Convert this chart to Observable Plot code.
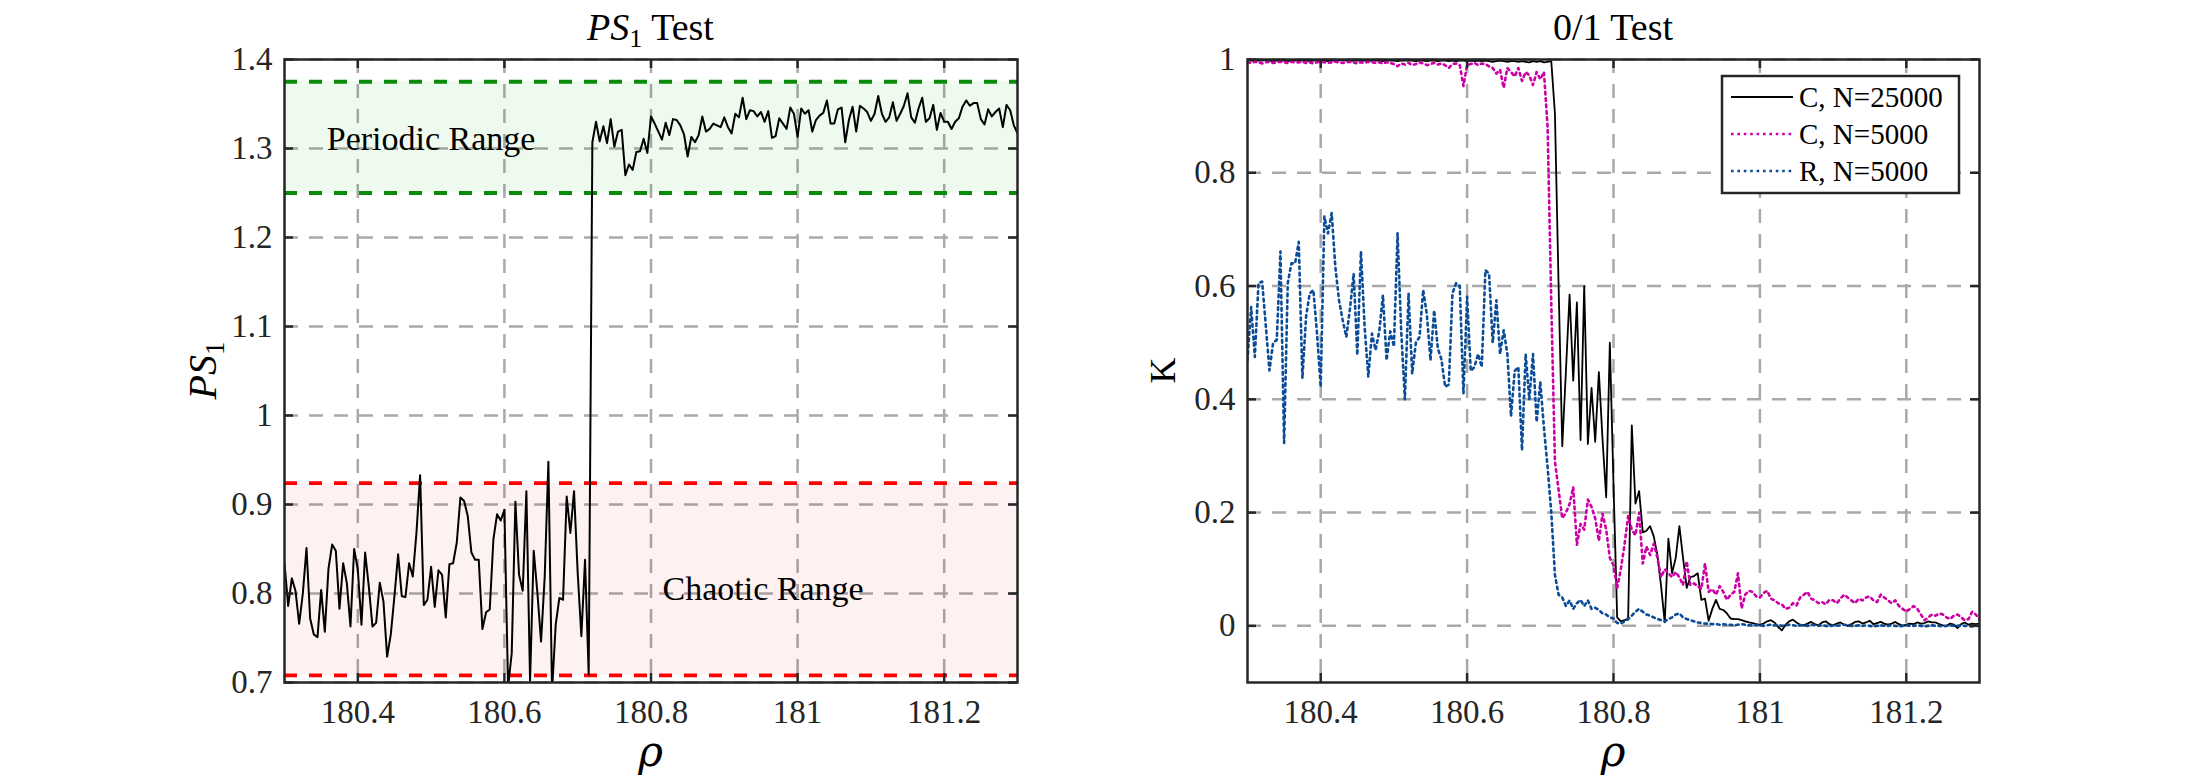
<!DOCTYPE html>
<html>
<head>
<meta charset="utf-8">
<script src="https://cdn.jsdelivr.net/npm/d3@7"></script>
<script src="https://cdn.jsdelivr.net/npm/@observablehq/plot@0.6"></script>
<style>
  html, body { margin: 0; padding: 0; background: #fff; }
  #chart { position: relative; width: 2188px; height: 782px; overflow: hidden; }
  #chart .panel { position: absolute; top: 0; }
  #chart svg text { font-family: "Liberation Serif", "Times New Roman", serif; }
  #overlay { position: absolute; left: 0; top: 0; pointer-events: none; }
</style>
</head>
<body>
<div id="chart"></div>
<script>
// Parameter sweep: rho from 180.3 to 181.3 in steps of 0.005 (201 samples)
const rhoStart = 180.3;
const rhoStep = 0.005;
const rhoDomain = [180.3, 181.3];
const rhoTicks = [180.4, 180.6, 180.8, 181, 181.2];

// PS1 test statistic
const ps1Ticks = [0.7, 0.8, 0.9, 1, 1.1, 1.2, 1.3, 1.4];
const periodicRange = [1.25, 1.375];
const chaoticRange = [0.708, 0.924];
const ps1 = [
  0.834, 0.786, 0.817, 0.803, 0.766, 0.800, 0.851, 0.772, 0.754, 0.751,
  0.804, 0.757, 0.828, 0.855, 0.848, 0.783, 0.834, 0.812, 0.763, 0.850,
  0.827, 0.765, 0.846, 0.808, 0.763, 0.767, 0.812, 0.791, 0.729, 0.754,
  0.797, 0.844, 0.797, 0.796, 0.834, 0.819, 0.868, 0.933, 0.787, 0.793,
  0.830, 0.785, 0.826, 0.821, 0.773, 0.833, 0.834, 0.857, 0.908, 0.904,
  0.887, 0.846, 0.838, 0.838, 0.760, 0.779, 0.782, 0.861, 0.889, 0.882,
  0.894, 0.695, 0.733, 0.903, 0.821, 0.803, 0.915, 0.702, 0.848, 0.801,
  0.746, 0.819, 0.948, 0.690, 0.765, 0.795, 0.793, 0.909, 0.868, 0.915,
  0.823, 0.752, 0.838, 0.709,
  1.307, 1.330, 1.308, 1.325, 1.306, 1.333, 1.302, 1.319, 1.321, 1.270,
  1.282, 1.276, 1.296, 1.297, 1.311, 1.295,
  1.336, 1.328, 1.319, 1.310, 1.329, 1.315, 1.333, 1.332, 1.326, 1.316,
  1.291, 1.313, 1.307, 1.315, 1.336, 1.319, 1.322, 1.328, 1.326, 1.324,
  1.335, 1.324, 1.317, 1.339, 1.335, 1.357, 1.333, 1.343, 1.342, 1.336,
  1.341, 1.330, 1.342, 1.312, 1.314, 1.334, 1.328, 1.322, 1.346, 1.339,
  1.313, 1.345, 1.339, 1.343, 1.319, 1.332, 1.337, 1.340, 1.354, 1.328,
  1.328, 1.344, 1.346, 1.307, 1.332, 1.347, 1.319, 1.348, 1.345, 1.341,
  1.331, 1.339, 1.359, 1.339, 1.330, 1.335, 1.352, 1.331, 1.339, 1.348,
  1.362, 1.335, 1.329, 1.345, 1.357, 1.330, 1.334, 1.349, 1.321, 1.340,
  1.330, 1.330, 1.322, 1.330, 1.334, 1.347, 1.354, 1.348, 1.351, 1.351,
  1.333, 1.327, 1.344, 1.336, 1.341, 1.345, 1.324, 1.349, 1.343, 1.326,
  1.317
];

// 0/1 test for chaos: K values
const kTicks = [0, 0.2, 0.4, 0.6, 0.8, 1];
const kC25000 = [
  0.998, 0.998, 0.997, 0.998, 0.998, 0.999, 0.998, 0.997, 0.998, 0.998,
  0.998, 0.997, 0.998, 0.998, 0.999, 0.998, 0.998, 0.997, 0.998, 0.998,
  0.998, 0.998, 0.997, 0.998, 0.998, 0.998, 0.999, 0.998, 0.997, 0.998,
  0.998, 0.998, 0.998, 0.997, 0.998, 0.998, 0.998, 0.997, 0.998, 0.998,
  0.998, 0.997, 0.998, 0.998, 0.998, 0.998, 0.997, 0.998, 0.998, 0.997,
  0.998, 0.998, 0.997, 0.998, 0.998, 0.997, 0.998, 0.997, 0.998, 0.998,
  0.997, 0.998, 0.997, 0.998, 0.997, 0.998, 0.997, 0.996, 0.997, 0.998,
  0.997, 0.996, 0.997, 0.997, 0.996, 0.997, 0.996, 0.995, 0.997, 0.996,
  0.997, 0.995, 0.996, 0.997,
  0.904, 0.600, 0.317, 0.450, 0.585, 0.433, 0.571, 0.328, 0.600, 0.321,
  0.420, 0.325, 0.448, 0.330, 0.227, 0.500, 0.250, 0.015, 0.008, 0.010,
  0.013, 0.354, 0.216, 0.238, 0.165, 0.168, 0.176, 0.158, 0.125, 0.070,
  0.006, 0.154, 0.093, 0.120, 0.176, 0.120, 0.067, 0.086, 0.088, 0.093,
  0.046, 0.048, 0.009, 0.030, 0.046, 0.030, 0.028, 0.022, 0.013, 0.012,
  0.012, 0.010, 0.008, 0.006, 0.005, 0.003, 0.002,
  0.004, 0.008, 0.010, 0.006, -0.002, -0.008, 0.002, 0.008, 0.011, 0.006,
  0.002, 0.001, 0.004, 0.007, 0.003, 0.001, 0.006, 0.008, 0.003, 0.001,
  0.004, 0.006, 0.002, 0.000, 0.003, 0.007, 0.008, 0.004, 0.006, 0.009,
  0.003, 0.005, 0.007, 0.004, 0.002, 0.004, 0.007, 0.003, 0.000, 0.002,
  0.004, 0.003, 0.006, 0.004, 0.005, 0.008, 0.006, 0.006, 0.003, 0.001,
  0.000, 0.004, 0.002, -0.004, 0.003, 0.006, 0.002, 0.004, 0.003, 0.004
];
const kC5000 = [
  0.995, 0.994, 0.996, 0.995, 0.993, 0.995, 0.996, 0.994, 0.995, 0.996,
  0.995, 0.994, 0.996, 0.995, 0.995, 0.996, 0.994, 0.995, 0.993, 0.995,
  0.996, 0.995, 0.994, 0.995, 0.996, 0.995, 0.994, 0.995, 0.996, 0.995,
  0.993, 0.995, 0.994, 0.996, 0.995, 0.994, 0.995, 0.993, 0.995, 0.994,
  0.992, 0.988, 0.993, 0.991, 0.994, 0.990, 0.992, 0.995, 0.993, 0.990,
  0.992, 0.994, 0.991, 0.993, 0.990, 0.985, 0.992, 0.993, 0.990, 0.953,
  0.990, 0.992, 0.994, 0.990, 0.993, 0.992, 0.988, 0.985, 0.975, 0.982,
  0.950, 0.985, 0.978, 0.970, 0.985, 0.962, 0.978, 0.972, 0.955, 0.978,
  0.965, 0.978, 0.880, 0.570,
  0.290, 0.240, 0.190, 0.200, 0.215, 0.245, 0.143, 0.180, 0.170, 0.223,
  0.210, 0.190, 0.150, 0.198, 0.170, 0.120, 0.107, 0.067, 0.100, 0.143,
  0.194, 0.170, 0.160, 0.200, 0.110, 0.140, 0.125, 0.145, 0.120, 0.086,
  0.100, 0.093, 0.086, 0.095, 0.086, 0.072, 0.114, 0.072, 0.075, 0.070,
  0.065, 0.110, 0.060, 0.065, 0.055, 0.070, 0.060, 0.046, 0.055, 0.060,
  0.093, 0.031, 0.055, 0.062, 0.060, 0.052, 0.050, 0.058, 0.062, 0.048,
  0.045, 0.040, 0.038, 0.030, 0.032, 0.040, 0.036, 0.050, 0.055, 0.060,
  0.048, 0.045, 0.040, 0.042, 0.038, 0.046, 0.045, 0.040, 0.048, 0.055,
  0.050, 0.045, 0.040, 0.048, 0.045, 0.050, 0.052, 0.045, 0.042, 0.055,
  0.050, 0.045, 0.040, 0.045, 0.035, 0.030, 0.025, 0.030, 0.035, 0.030,
  0.020, 0.010, 0.015, 0.020, 0.018, 0.022, 0.020, 0.015, 0.012, 0.018,
  0.020, 0.015, 0.010, 0.012, 0.025, 0.020, 0.012
];
const kR5000 = [
  0.469, 0.563, 0.475, 0.605, 0.608, 0.530, 0.451, 0.500, 0.505, 0.661,
  0.323, 0.605, 0.640, 0.640, 0.678, 0.437, 0.546, 0.587, 0.593, 0.516,
  0.422, 0.723, 0.693, 0.729, 0.634, 0.575, 0.540, 0.510, 0.560, 0.622,
  0.478, 0.661, 0.528, 0.440, 0.516, 0.487, 0.520, 0.584, 0.469, 0.520,
  0.493, 0.693, 0.520, 0.400, 0.587, 0.445, 0.500, 0.510, 0.593, 0.550,
  0.469, 0.557, 0.490, 0.470, 0.422, 0.426, 0.587, 0.605, 0.600, 0.410,
  0.581, 0.450, 0.457, 0.480, 0.457, 0.628, 0.622, 0.500, 0.575, 0.480,
  0.522, 0.480, 0.370, 0.450, 0.457, 0.310, 0.480, 0.400, 0.480, 0.360,
  0.430, 0.350, 0.280, 0.200,
  0.090, 0.055, 0.050, 0.035, 0.045, 0.030, 0.040, 0.046, 0.035, 0.045,
  0.030, 0.032, 0.028, 0.022, 0.020, 0.015, 0.013, 0.005, 0.004, 0.008,
  0.012, 0.018, 0.025, 0.030, 0.025, 0.020, 0.018, 0.015, 0.012, 0.010,
  0.008, 0.012, 0.015, 0.020, 0.022, 0.015, 0.012, 0.010, 0.008, 0.006,
  0.005, 0.004,
  0.004, 0.003, 0.003, 0.002, 0.003, 0.002, 0.002, 0.001, 0.002, 0.003,
  0.002, 0.001, 0.001, 0.002, 0.001, 0.000, 0.001, 0.002, 0.001, 0.001,
  0.000, 0.001, 0.002, 0.001, 0.000, 0.001, 0.001, 0.000, 0.002, 0.001,
  0.000, 0.001, 0.000, -0.001, 0.001, 0.000, 0.001, 0.002, 0.001, 0.000,
  0.000, 0.001, 0.000, 0.001, 0.000, -0.001, 0.000, 0.001, 0.000, 0.000,
  0.001, 0.000, -0.001, 0.000, 0.001, 0.000, 0.000, 0.001, 0.000, -0.001,
  0.000, 0.001, 0.000, 0.000, -0.001, 0.000, 0.001, 0.000, 0.000, 0.001,
  0.000, 0.000, -0.001, 0.000, 0.001
];

const seriesNames = ["C, N=25000", "C, N=5000", "R, N=5000"];
const seriesColors = ["#000000", "#cc00a6", "#0b4c96"];

// rho value for sample i of a sweep
const rhoAt = (_, i) => +(rhoStart + i * rhoStep).toFixed(3);

// ---------- shared styling ----------
const FONT = "Liberation Serif, Times New Roman, serif";
const AXIS = "#262626";
const GRID = { stroke: "#a9a9a9", strokeOpacity: 1, strokeWidth: 2.5, strokeDasharray: "14,11" };
const DOTS = "2.6,3.8";
const TICK_LEN = 9;
const fmt = d => String(d);

const H = 782, TOP = 59, BOTTOM = 100;
const frameH = H - TOP - BOTTOM;

function panelMarks(xTicks, yTicks, frameW) {
  return {
    grid: [
      Plot.gridX(xTicks, GRID),
      Plot.gridY(yTicks, GRID)
    ],
    axes: [
      // tick labels
      Plot.text(xTicks, {x: d => d, frameAnchor: "bottom", lineAnchor: "top", dy: 17,
        text: fmt, fontSize: 33, fill: AXIS}),
      Plot.text(yTicks, {y: d => d, frameAnchor: "left", textAnchor: "end", dx: -12,
        text: fmt, fontSize: 33, fill: AXIS}),
      // inward tick marks on all four sides
      Plot.tickX(xTicks, {x: d => d, insetTop: frameH - TICK_LEN, stroke: AXIS, strokeWidth: 2.5}),
      Plot.tickX(xTicks, {x: d => d, insetBottom: frameH - TICK_LEN, stroke: AXIS, strokeWidth: 2.5}),
      Plot.tickY(yTicks, {y: d => d, insetRight: frameW - TICK_LEN, stroke: AXIS, strokeWidth: 2.5}),
      Plot.tickY(yTicks, {y: d => d, insetLeft: frameW - TICK_LEN, stroke: AXIS, strokeWidth: 2.5}),
      Plot.frame({stroke: AXIS, strokeWidth: 2.5})
    ]
  };
}

// ---------- left panel: PS1 test ----------
const leftW = 1100, leftML = 284, leftMR = 83;
const leftFrameW = leftW - leftML - leftMR;
const lm = panelMarks(rhoTicks, ps1Ticks, leftFrameW);

const bands = [
  {y1: periodicRange[0], y2: periodicRange[1], fill: "rgb(0,185,0)", opacity: 0.065, stroke: "#0a8a0a"},
  {y1: chaoticRange[0], y2: chaoticRange[1], fill: "rgb(230,0,0)", opacity: 0.055, stroke: "#ff0000"}
];

const left = Plot.plot({
  width: leftW, height: H,
  marginLeft: leftML, marginRight: leftMR, marginTop: TOP, marginBottom: BOTTOM,
  style: {fontFamily: FONT, fontSize: "33px", color: AXIS, background: "transparent"},
  x: {domain: rhoDomain, axis: null},
  y: {domain: [0.7, 1.4], axis: null},
  marks: [
    ...lm.grid,
    Plot.rectY(bands, {x1: rhoDomain[0], x2: rhoDomain[1], y1: "y1", y2: "y2", fill: d => d.fill, fillOpacity: d => d.opacity}),
    Plot.ruleY(bands.flatMap(b => [{y: b.y1, c: b.stroke}, {y: b.y2, c: b.stroke}]),
      {y: "y", stroke: d => d.c, strokeWidth: 3.8, strokeDasharray: "13,12"}),
    Plot.line(ps1, {x: rhoAt, y: d => d, stroke: "#000", strokeWidth: 2, clip: true}),
    Plot.text([{x: 180.5, y: 1.311, t: "Periodic Range"}, {x: 180.953, y: 0.805, t: "Chaotic Range"}],
      {x: "x", y: "y", text: "t", fontSize: 34, fill: "#000"}),
    ...lm.axes
  ]
});
left.classList.add("panel");
left.style.left = "0px";

// ---------- right panel: 0/1 test ----------
const rightLeft = 1100, rightW = 1088, rightML = 147, rightMR = 209;
const rightFrameW = rightW - rightML - rightMR;
const rm = panelMarks(rhoTicks, kTicks, rightFrameW);

const right = Plot.plot({
  width: rightW, height: H,
  marginLeft: rightML, marginRight: rightMR, marginTop: TOP, marginBottom: BOTTOM,
  style: {fontFamily: FONT, fontSize: "33px", color: AXIS, background: "transparent"},
  x: {domain: rhoDomain, axis: null},
  y: {domain: [-0.1, 1], axis: null},
  marks: [
    ...rm.grid,
    Plot.line(kC25000, {x: rhoAt, y: d => d, stroke: seriesColors[0], strokeWidth: 1.8, clip: true}),
    Plot.line(kC5000, {x: rhoAt, y: d => d, stroke: seriesColors[1], strokeWidth: 2.6, strokeDasharray: DOTS, clip: true}),
    Plot.line(kR5000, {x: rhoAt, y: d => d, stroke: seriesColors[2], strokeWidth: 2.6, strokeDasharray: DOTS, clip: true}),
    ...rm.axes
  ]
});
right.classList.add("panel");
right.style.left = rightLeft + "px";

const chart = document.getElementById("chart");
chart.append(left, right);

// ---------- titles, axis labels and legend ----------
const ov = d3.select(chart).append("svg")
  .attr("id", "overlay").attr("width", 2188).attr("height", H)
  .attr("font-family", FONT).attr("fill", "#000");

const leftCx = leftML + leftFrameW / 2;
const rightCx = rightLeft + rightML + rightFrameW / 2;
const midY = TOP + frameH / 2;

// left title: PS_1 Test
const t1 = ov.append("text").attr("x", leftCx).attr("y", 40).attr("text-anchor", "middle").attr("font-size", 38);
t1.append("tspan").attr("font-style", "italic").text("PS");
t1.append("tspan").attr("font-size", 26).attr("dy", 7).text("1");
t1.append("tspan").attr("dy", -7).text(" Test");

// right title
ov.append("text").attr("x", rightCx).attr("y", 40).attr("text-anchor", "middle").attr("font-size", 38).text("0/1 Test");

// x labels
for (const cx of [leftCx, rightCx]) {
  ov.append("text").attr("x", cx).attr("y", 766).attr("text-anchor", "middle")
    .attr("font-size", 42).attr("font-style", "italic")
    .style("font-family", "'DejaVu Serif', serif").text("ρ");
}

// y labels
const yl = ov.append("text").attr("transform", `translate(216,${midY}) rotate(-90)`)
  .attr("text-anchor", "middle").attr("font-size", 40);
yl.append("tspan").attr("font-style", "italic").text("PS");
yl.append("tspan").attr("font-size", 27).attr("dy", 8).text("1");

ov.append("text").attr("transform", `translate(1175,${midY}) rotate(-90)`)
  .attr("text-anchor", "middle").attr("font-size", 36).text("K");

// legend box
const lg = ov.append("g");
lg.append("rect").attr("x", 1722).attr("y", 76).attr("width", 237).attr("height", 117)
  .attr("fill", "#fff").attr("stroke", AXIS).attr("stroke-width", 2.5);
const rowY = [97, 134, 171];
seriesNames.forEach((name, i) => {
  lg.append("line").attr("x1", 1731).attr("x2", 1793).attr("y1", rowY[i]).attr("y2", rowY[i])
    .attr("stroke", seriesColors[i]).attr("stroke-width", i === 0 ? 1.8 : 2.6)
    .attr("stroke-dasharray", i === 0 ? null : DOTS);
  lg.append("text").attr("x", 1799).attr("y", rowY[i] + 10).attr("font-size", 29).text(name);
});
</script>
</body>
</html>
